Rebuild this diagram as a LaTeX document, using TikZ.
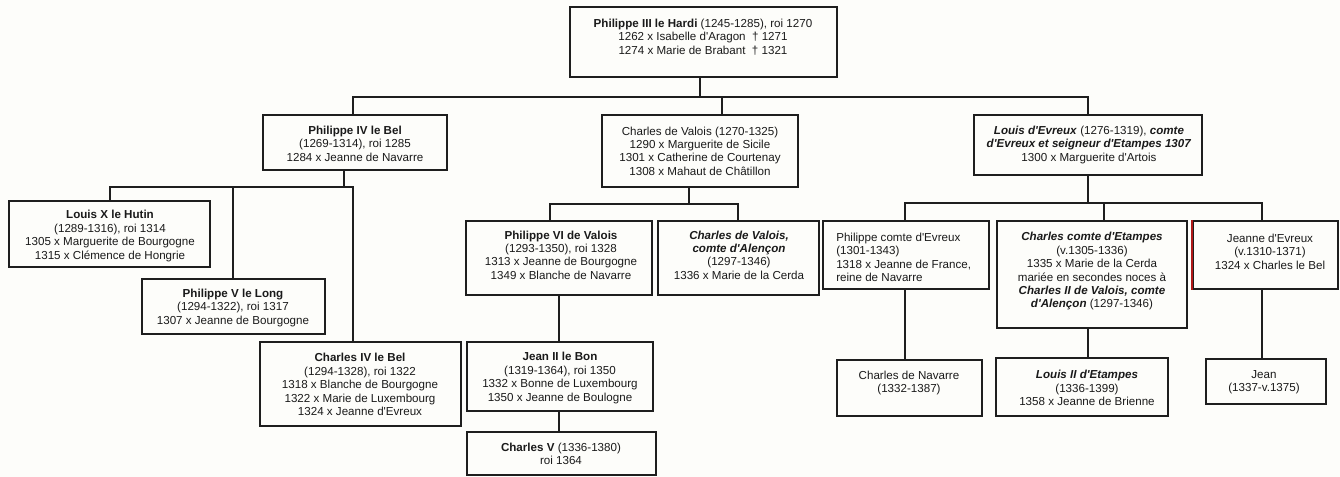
\documentclass[tikz,border=0pt]{standalone}
\usepackage{fontspec}
\setmainfont{Liberation Sans}[Ligatures=TeXOff]
\usetikzlibrary{fit}
\definecolor{linec}{HTML}{1E1E1E}
\definecolor{textc}{HTML}{1A1A1A}
\definecolor{bgc}{HTML}{FDFDFA}
\definecolor{redc}{HTML}{B01818}
\tikzset{
  box/.style={draw=linec, line width=1.35pt, inner sep=0pt},
  txt/.style={align=center, inner sep=0pt, text=textc, font=\fontsize{8.7}{10.05}\selectfont},
  conn/.style={draw=linec, line width=1.35pt},
}
\newcommand{\bi}[1]{\textbf{\textit{#1}}}
\begin{document}
\begin{tikzpicture}[x=0.75pt,y=-0.75pt]
\fill[bgc] (0,0) rectangle (1340,477);
\useasboundingbox (0,0) rectangle (1340,477);

% boxes
\node[box, fit={(570,7) (837,77)}] (p3) {};
\node[box, fit={(263,115) (447,170)}] (p4) {};
\node[box, fit={(602,115) (798,187)}] (cv) {};
\node[box, fit={(974,115) (1202,175)}] (le) {};
\node[box, fit={(9,201) (210,267)}] (lx) {};
\node[box, fit={(142,279) (325,334)}] (p5) {};
\node[box, fit={(260,342) (461,426)}] (c4) {};
\node[box, fit={(466,221) (652,295)}] (p6) {};
\node[box, fit={(658,221) (819,295)}] (al) {};
\node[box, fit={(467,342) (653,411)}] (j2) {};
\node[box, fit={(467,432) (656,475)}] (c5) {};
\node[box, fit={(823,221) (989,289)}] (pe) {};
\node[box, fit={(997,221) (1187,328)}] (ce) {};
\node[box, fit={(1193,221) (1338,289)}] (je) {};
\node[box, fit={(837,360) (982,416)}] (cn) {};
\node[box, fit={(996,358) (1168,416)}] (l2) {};
\node[box, fit={(1206,359) (1326,404)}] (jn) {};
\draw[redc, line width=1.35pt] (je.north west) -- (je.south west);

% texts
\node[txt] (p3t) at (703,37) {\textbf{Philippe III le Hardi} (1245-1285), roi 1270\\1262 x Isabelle d'Aragon~~† 1271\\1274 x Marie de Brabant~~† 1321};
\node[txt] (p4t) at (355,143.8) {\textbf{Philippe IV le Bel}\\(1269-1314), roi 1285\\1284 x Jeanne de Navarre};
\node[txt] (cvt) at (700,151) {Charles de Valois (1270-1325)\\1290 x Marguerite de Sicile\\1301 x Catherine de Courtenay\\1308 x Mahaut de Châtillon};
\node[txt] (let) at (1089,144.7) {\bi{Louis d'Evreux} (1276-1319), \bi{comte}\\\bi{d'Evreux et seigneur d'Etampes 1307}\\1300 x Marguerite d'Artois};
\node[txt] (lxt) at (110,236) {\textbf{Louis X le Hutin}\\(1289-1316), roi 1314\\1305 x Marguerite de Bourgogne\\1315 x Clémence de Hongrie};
\node[txt] (p5t) at (233,308) {\textbf{Philippe V le Long}\\(1294-1322), roi 1317\\1307 x Jeanne de Bourgogne};
\node[txt] (c4t) at (360,384.5) {\textbf{Charles IV le Bel}\\(1294-1328), roi 1322\\1318 x Blanche de Bourgogne\\1322 x Marie de Luxembourg\\1324 x Jeanne d'Evreux};
\node[txt] (p6t) at (561,255) {\textbf{Philippe VI de Valois}\\(1293-1350), roi 1328\\1313 x Jeanne de Bourgogne\\1349 x Blanche de Navarre};
\node[txt] (alt) at (739,255) {\bi{Charles de Valois,}\\\bi{comte d'Alençon}\\(1297-1346)\\1336 x Marie de la Cerda};
\node[txt] (j2t) at (560,378) {\textbf{Jean II le Bon}\\(1319-1364), roi 1350\\1332 x Bonne de Luxembourg\\1350 x Jeanne de Boulogne};
\node[txt] (c5t) at (561,454) {\textbf{Charles V} (1336-1380)\\roi 1364};
\node[txt, align=left, anchor=west] (pet) at (836,257.5) {Philippe comte d'Evreux\\(1301-1343)\\1318 x Jeanne de France,\\reine de Navarre};
\node[txt] (cet) at (1092,271.5) {\bi{Charles comte d'Etampes}\\(v.1305-1336)\\1335 x Marie de la Cerda\\mariée en secondes noces à\\\bi{Charles II de Valois, comte}\\\bi{d'Alençon} (1297-1346)};
\node[txt] (jet) at (1270,251.5) {Jeanne d'Evreux\\(v.1310-1371)\\1324 x Charles le Bel};
\node[txt] (cnt) at (909,383) {Charles de Navarre\\(1332-1387)};
\node[txt] (l2t) at (1087,388) {\bi{Louis II d'Etampes}\\(1336-1399)\\1358 x Jeanne de Brienne};
\node[txt] (jnt) at (1264,382) {Jean\\(1337-v.1375)};

% bus coordinates
\coordinate (a1) at (700,97);
\coordinate (a2) at (353,97);
\coordinate (a3) at (722,97);
\coordinate (a4) at (1088,97);
\coordinate (b0) at (344,187);
\coordinate (b1) at (110,187);
\coordinate (b2) at (233,187);
\coordinate (b3) at (353,187);
\coordinate (c0) at (689,204);
\coordinate (c1) at (550,204);
\coordinate (c2) at (738,204);
\coordinate (d0) at (559,300);
\coordinate (e0) at (1088,203);
\coordinate (e1) at (905,203);
\coordinate (e2) at (1104,203);
\coordinate (e3) at (1262,203);

% connectors
\draw[conn] (p3.south -| a1) -- (a1);
\draw[conn] (a2 |- p4.north) -- (a2) -- (a4) -- (a4 |- le.north);
\draw[conn] (a3) -- (a3 |- cv.north);

\draw[conn] (p4.south -| b0) -- (b0);
\draw[conn] (b1 |- lx.north) -- (b1) -- (b3) -- (b3 |- c4.north);
\draw[conn] (b2) -- (b2 |- p5.north);

\draw[conn] (cv.south -| c0) -- (c0);
\draw[conn] (c1 |- p6.north) -- (c1) -- (c2) -- (c2 |- al.north);
\draw[conn] (p6.south -| d0) -- (j2.north -| d0);
\draw[conn] (j2.south -| d0) -- (c5.north -| d0);

\draw[conn] (le.south -| e0) -- (e0);
\draw[conn] (e1 |- pe.north) -- (e1) -- (e3) -- (e3 |- je.north);
\draw[conn] (e2) -- (e2 |- ce.north);
\draw[conn] (pe.south -| e1) -- (cn.north -| e1);
\draw[conn] (ce.south -| e0) -- (l2.north -| e0);
\draw[conn] (je.south -| e3) -- (jn.north -| e3);
\end{tikzpicture}
\end{document}
